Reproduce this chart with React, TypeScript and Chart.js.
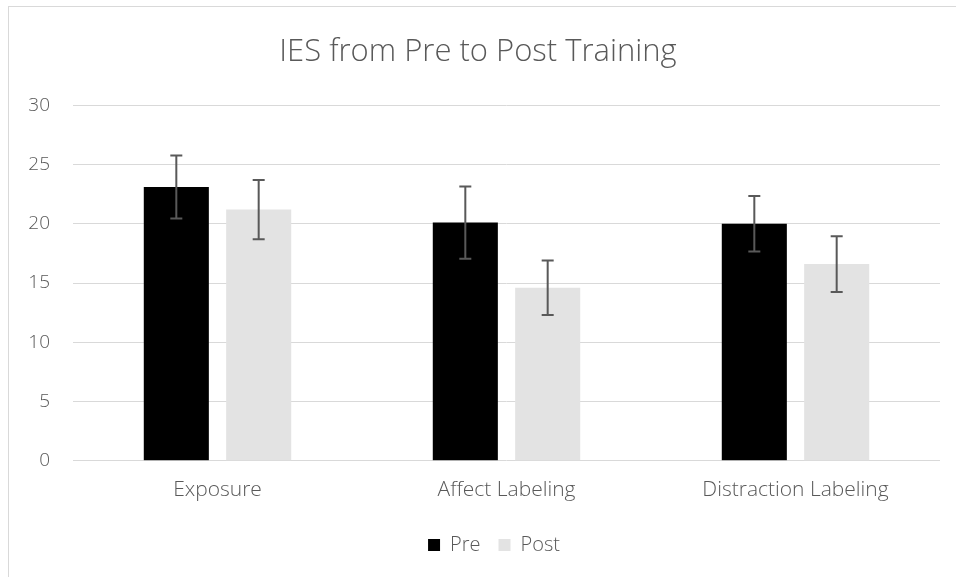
import React, { useEffect, useRef } from "react";
import { Chart, registerables } from "chart.js";

Chart.register(...registerables);

const categories = ["Exposure", "Affect Labeling", "Distraction Labeling"];
const seriesNames = ["Pre", "Post"];
const preValues = [23.1, 20.1, 20.0];
const postValues = [21.2, 14.6, 16.6];
const preErrors = [2.65, 3.05, 2.35];
const postErrors = [2.5, 2.3, 2.35];
const yTicks = { min: 0, max: 30, step: 5 };
const titleText = "IES from Pre to Post Training";

const TEXT = "#595959";
const FONT = "'Open Sans', 'DejaVu Sans', sans-serif";

const errorBarPlugin = {
  id: "errorBars",
  afterDatasetsDraw(chart: any) {
    const ctx = chart.ctx;
    const yScale = chart.scales.y;
    chart.data.datasets.forEach((ds: any, i: number) => {
      const meta = chart.getDatasetMeta(i);
      const errs: number[] = ds.errors || [];
      meta.data.forEach((el: any, j: number) => {
        const v = ds.data[j];
        const e = errs[j];
        const x = el.x;
        const yT = yScale.getPixelForValue(v + e);
        const yB = yScale.getPixelForValue(v - e);
        ctx.save();
        ctx.strokeStyle = "#595959";
        ctx.lineWidth = 2;
        ctx.beginPath();
        ctx.moveTo(x, yT);
        ctx.lineTo(x, yB);
        ctx.moveTo(x - 6, yT);
        ctx.lineTo(x + 6, yT);
        ctx.moveTo(x - 6, yB);
        ctx.lineTo(x + 6, yB);
        ctx.stroke();
        ctx.restore();
      });
    });
  },
};

const shiftBlocksPlugin = {
  id: "shiftBlocks",
  afterLayout(chart: any) {
    if (chart.titleBlock) {
      chart.titleBlock.right += 16;
    }
    if (chart.legend) {
      chart.legend.left += 24;
      chart.legend.right += 24;
    }
  },
};

export default function App() {
  const ref = useRef<HTMLCanvasElement | null>(null);
  useEffect(() => {
    if (!ref.current) return;
    const chart = new Chart(ref.current, {
      type: "bar",
      data: {
        labels: categories,
        datasets: [
          {
            label: seriesNames[0],
            data: preValues,
            errors: preErrors,
            backgroundColor: "#000000",
            categoryPercentage: 0.57,
            barPercentage: 0.79,
          } as any,
          {
            label: seriesNames[1],
            data: postValues,
            errors: postErrors,
            backgroundColor: "#e3e3e3",
            categoryPercentage: 0.57,
            barPercentage: 0.79,
          } as any,
        ],
      },
      options: {
        animation: false,
        responsive: false,
        maintainAspectRatio: false,
        layout: { padding: { left: 0, right: 16, top: 0, bottom: 12 } },
        plugins: {
          title: {
            display: true,
            text: titleText,
            color: TEXT,
            font: { family: FONT, size: 31, weight: "300" as any, lineHeight: 1.2 },
            padding: { top: 34, bottom: 34 },
          },
          legend: {
            display: true,
            position: "bottom",
            labels: {
              color: TEXT,
              boxWidth: 12,
              boxHeight: 12,
              padding: 18,
              font: { family: FONT, size: 20, weight: "300" as any },
            },
          },
          tooltip: { enabled: false },
        },
        scales: {
          x: {
            grid: { display: false, drawTicks: false },
            border: { display: false },
            ticks: {
              color: TEXT,
              padding: 17,
              font: { family: FONT, size: 21, weight: "300" as any },
            },
            afterFit(scale: any) {
              scale.height = scale.height - 3;
            },
          },
          y: {
            min: yTicks.min,
            max: yTicks.max,
            grid: { color: "#d9d9d9", lineWidth: 1, drawTicks: false },
            border: { display: false },
            ticks: {
              stepSize: yTicks.step,
              color: TEXT,
              padding: 23,
              font: { family: FONT, size: 19, weight: "300" as any },
            },
            afterFit(scale: any) {
              scale.width = 73;
            },
          },
        },
      },
      plugins: [errorBarPlugin, shiftBlocksPlugin],
    });
    return () => chart.destroy();
  }, []);

  return (
    <div>
      <div
        style={{
          position: "absolute",
          left: 8,
          top: 6,
          width: 948,
          height: 571,
          borderTop: "1px solid #d9d9d9",
          borderLeft: "1px solid #d9d9d9",
          boxSizing: "border-box",
        }}
      />
      <canvas
        ref={ref}
        width={956}
        height={577}
        style={{ position: "absolute", left: 0, top: 0, width: 956, height: 577 }}
      />
    </div>
  );
}
